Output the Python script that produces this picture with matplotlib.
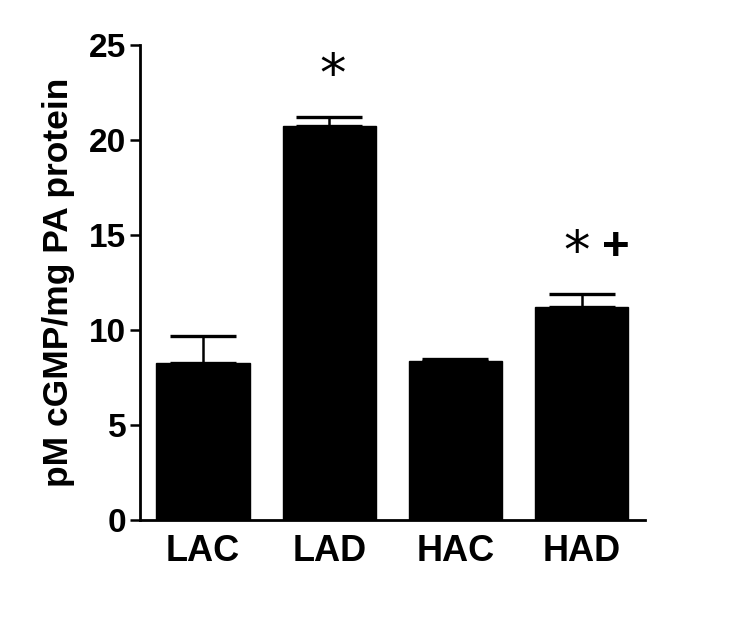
import numpy as np
import matplotlib
matplotlib.use("Agg")
import matplotlib.pyplot as plt

plt.rcParams['font.family'] = ['Liberation Sans', 'DejaVu Sans']

groups = ['LAC', 'LAD', 'HAC', 'HAD']
means = [8.25, 20.75, 8.37, 11.23]
sem = [1.43, 0.44, 0.12, 0.68]

fig = plt.figure(figsize=(7.5, 6.25), dpi=100)
ax = fig.add_axes([0.1867, 0.168, 0.673, 0.76])

x = np.arange(len(groups))
ax.bar(x, means, width=0.74, color='black', edgecolor='black')
ax.errorbar(x, means, yerr=[np.zeros(len(sem)), sem], fmt='none',
            ecolor='black', elinewidth=1.8, capsize=24, capthick=2.4)

# significance marks above bars
ax.text(1.03, 23.35, '*', ha='center', va='center', fontsize=38,
        family='DejaVu Sans')
ax.text(2.96, 14.05, '*', ha='center', va='center', fontsize=38,
        family='DejaVu Sans')
ax.text(3.27, 14.3, '+', ha='center', va='center', fontsize=34,
        fontweight='bold')

ax.set_xlim(-0.5, 3.5)
ax.set_ylim(0, 25)
ax.set_yticks([0, 5, 10, 15, 20, 25])
ax.set_xticks(x)
ax.set_xticklabels(groups, fontsize=26, fontweight='bold')
for lab in ax.get_yticklabels():
    lab.set_fontsize(24)
    lab.set_fontweight('bold')
ax.tick_params(axis='x', length=0, pad=10)
ax.tick_params(axis='y', length=7, width=1.8, pad=3)

ax.set_ylabel('pM cGMP/mg PA protein', fontsize=25.5, fontweight='bold',
              labelpad=10)

for s in ['top', 'right']:
    ax.spines[s].set_visible(False)
for s in ['left', 'bottom']:
    ax.spines[s].set_linewidth(2)

fig.savefig('out.png', dpi=100)
